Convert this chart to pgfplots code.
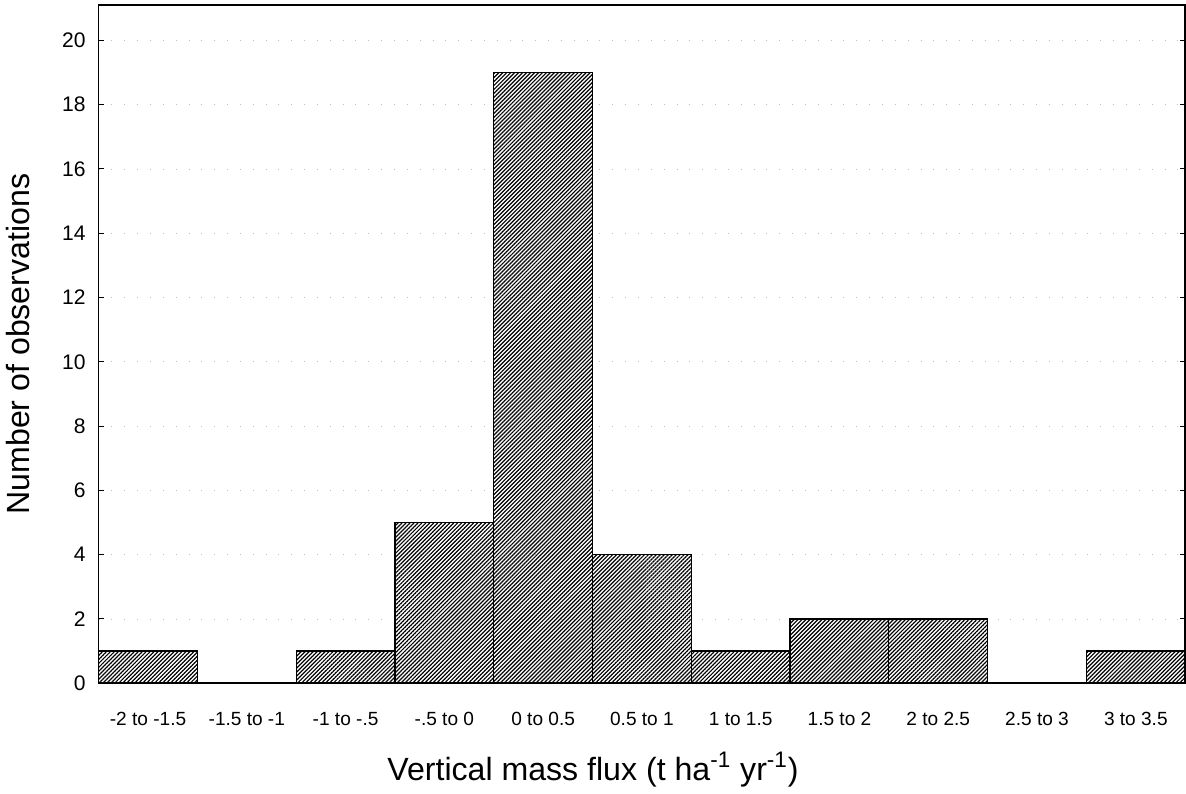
\documentclass[border=0pt]{standalone}
\usepackage{pgfplots}
\pgfplotsset{compat=1.18}
\usetikzlibrary{patterns.meta}
\usepackage{fontspec}
\setmainfont{Liberation Sans}

\begin{document}
\begin{tikzpicture}
\begin{axis}[
    width=541.5pt, height=338pt,
    scale only axis,
    xmin=-0.5, xmax=10.5,
    ymin=0, ymax=21.1,
    ytick={0,2,...,20},
    xtick={0,...,10},
    xticklabels={-2 to -1.5,-1.5 to -1,-1 to -.5,-.5 to 0,0 to 0.5,0.5 to 1,1 to 1.5,1.5 to 2,2 to 2.5,2.5 to 3,3 to 3.5},
    x tick style={draw=none},
    y tick style={black, line width=0.5pt},
    tick align=inside,
    major tick length=2.5pt,
    ymajorgrids,
    major grid style={gray!50, line width=0.3pt, dash pattern=on 0.4pt off 6pt},
    tick label style={font=\fontsize{9.5}{11}\selectfont},
    /pgf/number format/assume math mode=true,
    yticklabel style={font=\fontsize{10.5}{12}\selectfont, xshift=-3pt},
    xticklabel style={yshift=-6.5pt, text height=1.6ex, text depth=0.3ex},
    ylabel={Number of observations},
    ylabel style={font=\fontsize{16}{19}\selectfont, yshift=9pt},
    xlabel={Vertical mass flux (t ha\textsuperscript{-1} yr\textsuperscript{-1})},
    xlabel style={font=\fontsize{16}{19}\selectfont, at={(axis description cs:0.455,0)}, anchor=north, yshift=-31pt},
    axis line style={black, line width=0.8pt},
    ybar, bar width=1, bar shift=0pt,
]
\addplot[draw=black, line width=0.6pt,
    pattern={Lines[angle=45, distance=1.4pt, line width=0.6pt]}, pattern color=black]
    coordinates {
    (0,1) (1,0) (2,1) (3,5) (4,19) (5,4) (6,1) (7,2) (8,2) (9,0) (10,1)
};
\end{axis}
\end{tikzpicture}
\end{document}
